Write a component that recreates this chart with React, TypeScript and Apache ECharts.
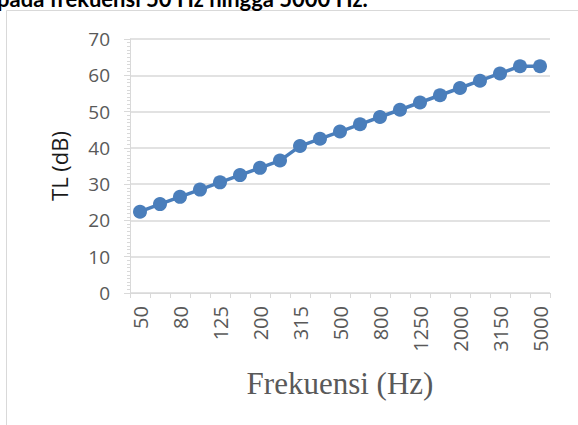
import React, { useEffect, useRef } from "react";
import * as echarts from "echarts";

const frequencies = ["50","63","80","100","125","160","200","250","315","400","500","630","800","1000","1250","1600","2000","2500","3150","4000","5000"];
const tlValues = [22.4, 24.5, 26.5, 28.5, 30.5, 32.5, 34.5, 36.5, 40.5, 42.5, 44.5, 46.5, 48.5, 50.5, 52.5, 54.5, 56.5, 58.5, 60.5, 62.5, 62.5];
const captionText = "pada frekuensi 50 Hz hingga 5000 Hz.";
const xAxisTitle = "Frekuensi (Hz)";
const yAxisTitle = "TL (dB)";

export default function App() {
  const ref = useRef<HTMLDivElement>(null);
  useEffect(() => {
    document.body.style.margin = "0";
    const chart = echarts.init(ref.current!, null, { renderer: "svg" });
    const gray = "#d9d9d9";
    const labelColor = "#595959";
    chart.setOption({
      animation: false,
      backgroundColor: "#ffffff",
      grid: { left: 130, right: 28, top: 39, bottom: 132, containLabel: false },
      graphic: [
        {
          type: "rect",
          shape: { x: 6.5, y: 10.5, width: 700, height: 600 },
          style: { fill: "none", stroke: gray, lineWidth: 1 },
          silent: true,
        },
        {
          type: "text",
          x: -3,
          y: -2,
          style: {
            text: captionText,
            font: 'bold 22px Lato, "Open Sans", sans-serif',
            fill: "#000000",
            verticalAlign: "middle",
            align: "left",
          },
          silent: true,
        },
      ],
      xAxis: {
        type: "category",
        data: frequencies,
        boundaryGap: true,
        name: xAxisTitle,
        nameLocation: "middle",
        nameGap: 75,
        nameTextStyle: { fontFamily: '"Liberation Serif", serif', fontSize: 31, color: labelColor },
        axisLine: { lineStyle: { color: gray, width: 1 } },
        axisTick: { show: true, alignWithLabel: false, interval: 0, length: 5, lineStyle: { color: gray } },
        axisLabel: {
          interval: 1,
          rotate: 90,
          fontFamily: '"Open Sans", sans-serif',
          fontSize: 20,
          color: labelColor,
          margin: 13,
        },
        splitLine: { show: false },
      },
      yAxis: {
        type: "value",
        min: 0,
        max: 70,
        interval: 10,
        name: yAxisTitle,
        nameLocation: "middle",
        nameGap: 60,
        nameRotate: 90,
        nameTextStyle: { fontFamily: '"Open Sans", sans-serif', fontSize: 22, color: "#1a1a1a" },
        axisLine: { show: true, lineStyle: { color: gray, width: 1 } },
        axisTick: { show: true, length: 6, lineStyle: { color: gray } },
        minorTick: { show: true, splitNumber: 10, length: 3, lineStyle: { color: gray } },
        axisLabel: { fontFamily: '"Open Sans", sans-serif', fontSize: 19, color: labelColor, margin: 20 },
        splitLine: { show: true, lineStyle: { color: gray, width: 1.5 } },
      },
      series: [
        {
          type: "line",
          data: tlValues,
          symbol: "circle",
          symbolSize: 14,
          showAllSymbol: true,
          lineStyle: { color: "#4a7ebb", width: 3.5 },
          itemStyle: { color: "#4a7ebb" },
        },
      ],
    });
    return () => chart.dispose();
  }, []);
  return <div ref={ref} style={{ width: 578, height: 425 }} />;
}
